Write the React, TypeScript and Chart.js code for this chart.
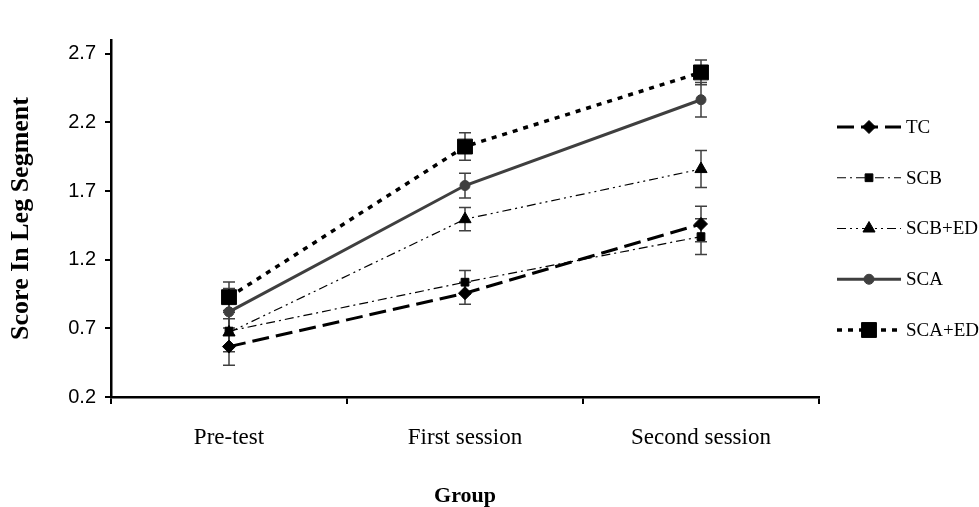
import React, { useEffect, useRef } from "react";
import { Chart, registerables } from "chart.js";
import { drawPoint } from "chart.js/helpers";

Chart.register(...registerables);

const categories = ["Pre-test", "First session", "Second session"];
const seriesNames = ["TC", "SCB", "SCB+ED", "SCA", "SCA+ED"];
const tcValues = [0.567, 0.956, 1.46];
const tcErrors = [0.135, 0.08, 0.13];
const scbValues = [0.68, 1.036, 1.368];
const scbErrors = [0.15, 0.085, 0.13];
const scbEdValues = [0.67, 1.495, 1.86];
const scbEdErrors = [0.1, 0.085, 0.135];
const scaValues = [0.82, 1.74, 2.365];
const scaErrors = [0.17, 0.09, 0.125];
const scaEdValues = [0.927, 2.024, 2.564];
const scaEdErrors = [0.11, 0.1, 0.09];
const yTickValues = [0.2, 0.7, 1.2, 1.7, 2.2, 2.7];

const SERIF = '"Times New Roman", "Liberation Serif", serif';
const SANS = 'Arial, "Liberation Sans", sans-serif';

const errorsByDataset = [tcErrors, scbErrors, scbEdErrors, scaErrors, scaEdErrors];

const errorBarPlugin = {
  id: "errorBars",
  beforeDatasetsDraw(chart: any) {
    const ctx = chart.ctx;
    const yScale = chart.scales.y;
    ctx.save();
    ctx.strokeStyle = "#404040";
    ctx.lineWidth = 1.5;
    ctx.setLineDash([]);
    chart.data.datasets.forEach((ds: any, di: number) => {
      const meta = chart.getDatasetMeta(di);
      const errs = errorsByDataset[di];
      meta.data.forEach((pt: any, i: number) => {
        const v = ds.data[i];
        const e = errs[i];
        const x = pt.x;
        const yTop = yScale.getPixelForValue(v + e);
        const yBot = yScale.getPixelForValue(v - e);
        ctx.beginPath();
        ctx.moveTo(x, yTop);
        ctx.lineTo(x, yBot);
        ctx.moveTo(x - 6, yTop);
        ctx.lineTo(x + 6, yTop);
        ctx.moveTo(x - 6, yBot);
        ctx.lineTo(x + 6, yBot);
        ctx.stroke();
      });
    });
    ctx.restore();
  },
};

const legendPlugin = {
  id: "customLegend",
  afterDraw(chart: any) {
    const ctx = chart.ctx;
    const area = chart.chartArea;
    const x0 = area.right + 18;
    const x1 = area.right + 82;
    const xm = area.right + 50;
    const xt = area.right + 87;
    const y0 = area.top + 87;
    const step = 50.75;
    chart.data.datasets.forEach((ds: any, i: number) => {
      const y = y0 + i * step;
      ctx.save();
      ctx.strokeStyle = ds.borderColor;
      ctx.lineWidth = ds.borderWidth;
      ctx.setLineDash(ds.borderDash || []);
      ctx.beginPath();
      ctx.moveTo(x0, y);
      ctx.lineTo(x1, y);
      ctx.stroke();
      ctx.restore();
      ctx.save();
      ctx.setLineDash([]);
      ctx.beginPath();
      ctx.fillStyle = ds.pointBackgroundColor;
      ctx.strokeStyle = ds.pointBorderColor;
      ctx.lineWidth = 1;
      drawPoint(ctx, { pointStyle: ds.pointStyle, rotation: 0, borderWidth: 1, radius: ds.pointRadius }, xm, y);
      ctx.restore();
      ctx.save();
      ctx.fillStyle = "#000";
      ctx.font = `19px ${SERIF}`;
      ctx.textAlign = "left";
      ctx.textBaseline = "middle";
      ctx.fillText(seriesNames[i], xt, y + 1);
      ctx.restore();
    });
  },
};

export default function App() {
  const canvasRef = useRef<HTMLCanvasElement | null>(null);

  useEffect(() => {
    document.body.style.margin = "0";
    const canvas = canvasRef.current;
    if (!canvas) return;
    const mk = (
      label: string,
      data: number[],
      color: string,
      width: number,
      dash: number[],
      pointStyle: string,
      radius: number
    ) => ({
      label,
      data,
      borderColor: color,
      borderWidth: width,
      borderDash: dash,
      pointStyle,
      pointRadius: radius,
      pointHoverRadius: radius,
      pointBackgroundColor: color,
      pointBorderColor: color,
      pointBorderWidth: 1,
      fill: false,
      tension: 0,
    });
    const chart = new Chart(canvas, {
      type: "line",
      data: {
        labels: categories,
        datasets: [
          mk(seriesNames[0], tcValues, "#000000", 3, [17, 7], "rectRot", 6.5),
          mk(seriesNames[1], scbValues, "#000000", 1.2, [9, 4, 2, 4], "rect", 5.5),
          mk(seriesNames[2], scbEdValues, "#000000", 1.2, [9, 4, 2, 4, 2, 4], "triangle", 7),
          mk(seriesNames[3], scaValues, "#3f3f3f", 3, [], "circle", 5),
          mk(seriesNames[4], scaEdValues, "#000000", 3.5, [5, 6], "rect", 10.5),
        ] as any,
      },
      options: {
        animation: false,
        responsive: true,
        maintainAspectRatio: false,
        layout: { padding: { top: 40, right: 160, bottom: 0, left: 0 } },
        plugins: {
          legend: { display: false },
          tooltip: { enabled: false },
        },
        scales: {
          x: {
            type: "category",
            offset: true,
            afterFit(scale: any) {
              scale.height = 110;
            },
            grid: {
              offset: true,
              drawOnChartArea: false,
              drawTicks: true,
              tickLength: 7,
              color: "#000",
              lineWidth: 2,
            },
            border: { display: true, color: "#000", width: 2.5 },
            ticks: {
              color: "#000",
              font: { family: SERIF, size: 23 },
              padding: 20,
              maxRotation: 0,
            },
            title: {
              display: true,
              text: "Group",
              color: "#000",
              font: { family: SERIF, size: 22, weight: "bold", lineHeight: 1 },
              padding: { top: 0, bottom: 0 },
            },
          },
          y: {
            type: "linear",
            min: 0.2,
            max: 2.8,
            afterFit(scale: any) {
              scale.width = 111;
            },
            afterBuildTicks(scale: any) {
              scale.ticks = yTickValues.map((v) => ({ value: v }));
            },
            grid: {
              drawOnChartArea: false,
              drawTicks: true,
              tickLength: 6,
              color: "#000",
              lineWidth: 2,
            },
            border: { display: true, color: "#000", width: 2.5 },
            ticks: {
              color: "#000",
              font: { family: SANS, size: 20 },
              padding: 9,
              callback: (v: any) => Number(v).toFixed(1),
            },
            title: {
              display: true,
              text: "Score In Leg Segment",
              color: "#000",
              font: { family: SERIF, size: 26, weight: "bold" },
              padding: { top: 6, bottom: 0 },
            },
          },
        },
      } as any,
      plugins: [errorBarPlugin, legendPlugin],
    });
    return () => chart.destroy();
  }, []);

  return (
    <div style={{ position: "absolute", left: 0, top: 0, width: 979, height: 507 }}>
      <canvas ref={canvasRef} />
    </div>
  );
}
